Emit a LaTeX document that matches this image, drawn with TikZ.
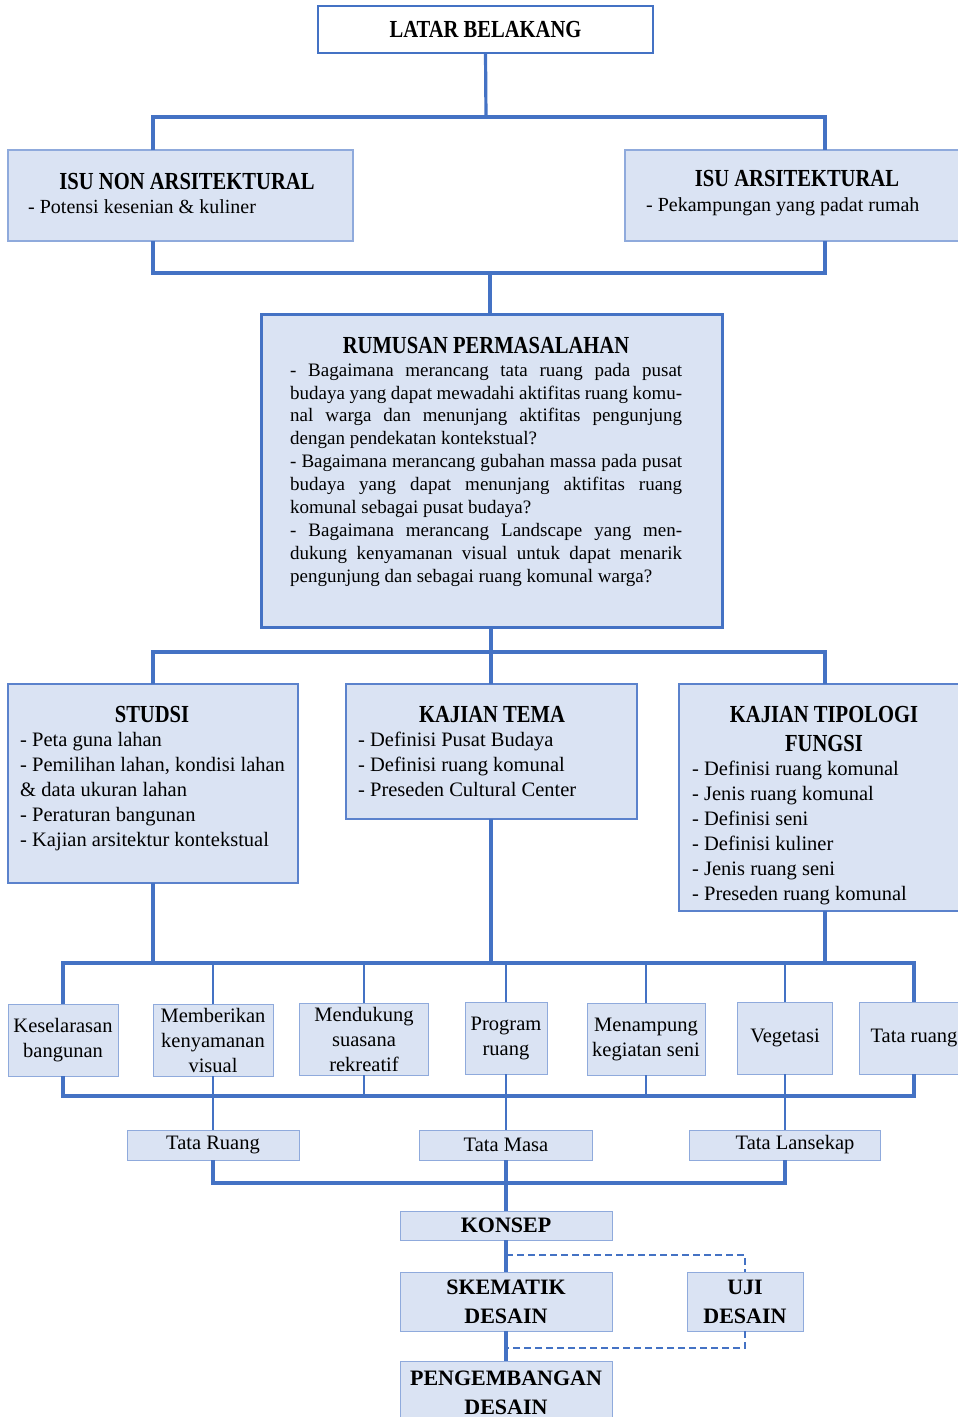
\documentclass[tikz,border=0pt]{standalone}
\usepackage{fontspec}
\setmainfont{Liberation Serif}
\usepackage{graphicx}
\usetikzlibrary{calc}
\definecolor{lb}{HTML}{4472C4}
\definecolor{fb}{HTML}{DAE3F3}
\definecolor{bb}{HTML}{8FAADC}
\definecolor{mb}{HTML}{5B82CC}
\newcommand\ttl[1]{\scalebox{0.84}[1]{#1}}
\newcommand\jl[1]{\makebox[392pt][s]{#1}}
\begin{document}
\begin{tikzpicture}[x=1pt,y=-1pt,
  conn/.style={draw=lb,line width=3.2pt},
  midl/.style={draw=lb,line width=2.4pt},
  thinl/.style={draw=lb,line width=1.8pt},
  dashl/.style={draw=lb,line width=2.8pt,dash pattern=on 7pt off 4pt},
  box/.style={rectangle,fill=fb,inner sep=0pt,outer sep=0pt},
  sbox/.style={box,draw=bb,line width=1pt,align=center,font=\fontsize{20.5}{25}\selectfont},
  ttlf/.style={font=\fontsize{24.5}{28}\selectfont\bfseries,inner sep=0pt},
  kf/.style={font=\fontsize{22}{29}\selectfont\bfseries},
  bodyf/.style={font=\fontsize{20}{25}\selectfont,inner sep=0pt},
  listf/.style={font=\fontsize{20.5}{25}\selectfont,inner sep=0pt,align=left,anchor=north west},
]
\useasboundingbox (0,0) rectangle (958,1417);
\clip (0,0) rectangle (958,1417);

% top
\node[box,fill=white,draw=lb,line width=1.5pt,minimum width=335pt,minimum height=47pt,anchor=north west,ttlf] (lat) at (318,6) {\ttl{LATAR BELAKANG}};
\node[box,draw=bb,line width=1.5pt,minimum width=345pt,minimum height=91pt,anchor=north west] (isun) at (8,150) {};
\node[ttlf,anchor=base] (isunt) at (187,189) {\ttl{ISU NON ARSITEKTURAL}};
\node[bodyf,anchor=base west] (isuni) at (28,213) {- Potensi kesenian \& kuliner};
\node[box,draw=bb,line width=1.5pt,minimum width=345pt,minimum height=91pt,anchor=north west] (isa) at (625,150) {};
\node[ttlf,anchor=base] (isat) at (797,186) {\ttl{ISU ARSITEKTURAL}};
\node[bodyf,anchor=base west] (isai) at (646,211) {- Pekampungan yang padat rumah};

% rumusan
\node[box,draw=lb,line width=3pt,minimum width=461pt,minimum height=313pt,anchor=north west] (rum) at (261,314) {};
\node[ttlf,anchor=base] (rumt) at (486,353) {\ttl{RUMUSAN PERMASALAHAN}};
\node[font=\fontsize{19}{22.9}\selectfont,inner sep=0pt,align=left,anchor=north west] (rump) at (290,359.9) {%
\strut\jl{- Bagaimana merancang tata ruang pada pusat}\\
\jl{budaya yang dapat mewadahi aktifitas ruang komu-}\\
\jl{nal warga dan menunjang aktifitas pengunjung}\\
dengan pendekatan kontekstual?\\
\jl{- Bagaimana merancang gubahan massa pada pusat}\\
\jl{budaya yang dapat menunjang aktifitas ruang}\\
komunal sebagai pusat budaya?\\
\jl{- Bagaimana merancang Landscape yang men-}\\
\jl{dukung kenyamanan visual untuk dapat menarik}\\
pengunjung dan sebagai ruang komunal warga?};

% studi boxes
\node[box,draw=mb,line width=2pt,minimum width=290pt,minimum height=199pt,anchor=north west] (stud) at (8,684) {};
\node[ttlf,anchor=base] (studt) at (152,722) {\ttl{STUDSI}};
\node[listf] (studl) at (20,728.5) {\strut- Peta guna lahan\\- Pemilihan lahan, kondisi lahan\\\& data ukuran lahan\\- Peraturan bangunan\\- Kajian arsitektur kontekstual};
\node[box,draw=mb,line width=2pt,minimum width=291pt,minimum height=135pt,anchor=north west] (ktem) at (346,684) {};
\node[ttlf,anchor=base] (ktemt) at (492,722) {\ttl{KAJIAN TEMA}};
\node[listf] (kteml) at (358,728.5) {\strut- Definisi Pusat Budaya\\- Definisi ruang komunal\\- Preseden Cultural Center};
\node[box,draw=mb,line width=2pt,minimum width=295pt,minimum height=227pt,anchor=north west] (ktip) at (679,684) {};
\node[ttlf,anchor=base] (ktipt) at (824,722) {\ttl{KAJIAN TIPOLOGI}};
\node[ttlf,anchor=base] (ktipt2) at (824,751) {\ttl{FUNGSI}};
\node[listf] (ktipl) at (692,757.5) {\strut- Definisi ruang komunal\\- Jenis ruang komunal\\- Definisi seni\\- Definisi kuliner\\- Jenis ruang seni\\- Preseden ruang komunal};

% small boxes
\node[sbox,minimum width=110pt,minimum height=72pt] (k1) at (63,1040) {Keselarasan\\bangunan};
\node[sbox,minimum width=120pt,minimum height=72pt] (k2) at (213,1040) {Memberikan\\kenyamanan\\visual};
\node[sbox,minimum width=129pt,minimum height=72pt] (k3) at (364,1039) {Mendukung\\suasana\\rekreatif};
\node[sbox,minimum width=82pt,minimum height=72pt] (k4) at (506,1038) {Program\\ruang};
\node[sbox,minimum width=118pt,minimum height=72pt] (k5) at (646,1039) {Menampung\\kegiatan seni};
\node[sbox,minimum width=95pt,minimum height=72pt] (k6) at (785,1038) {Vegetasi};
\node[sbox,minimum width=110pt,minimum height=72pt] (k7) at (914,1038) {Tata ruang};

\node[sbox,minimum width=172pt,minimum height=30pt] (tr) at (213,1145) {Tata Ruang};
\node[sbox,minimum width=173pt,minimum height=30pt] (tm) at (506,1145) {Tata Masa};
\node[sbox,minimum width=191pt,minimum height=30pt] (tl) at (785,1145) {\hspace*{20pt}Tata Lansekap};

\node[box,draw=bb,line width=1pt,minimum width=212pt,minimum height=29pt,kf] (kon) at (506,1225.5) {KONSEP};
\node[box,draw=bb,line width=1pt,minimum width=212pt,minimum height=59pt,kf,align=center] (ske) at (506,1301.5) {SKEMATIK\\DESAIN};
\node[box,draw=bb,line width=1pt,minimum width=116pt,minimum height=59pt,kf,align=center] (uji) at (745,1301.5) {UJI\\DESAIN};
\node[box,draw=bb,line width=1pt,minimum width=212pt,minimum height=64pt,kf,align=center] (pen) at (506,1393) {PENGEMBANGAN\\DESAIN};

% connectors
\coordinate (t1) at (486,117);
\coordinate (t2) at (490,273);
\coordinate (t3) at (491,652);
\coordinate (xl) at (153,0);
\coordinate (xr) at (825,0);
\draw[conn] (lat.south) -- (t1);
\draw[conn] (isun.north -| xl) |- (t1) -| (isa.north -| xr);
\draw[conn] (isun.south -| xl) |- (t2) -| (isa.south -| xr);
\draw[conn] (t2) -- (rum.north -| t2);
\draw[conn] (rum.south -| t3) -- (t3);
\draw[conn] (stud.north -| xl) |- (t3) -| (ktip.north -| xr);
\draw[conn] (t3) -- (ktem.north -| t3);

\coordinate (bus) at (0,963);
\coordinate (bus2) at (0,1096);
\coordinate (bus3) at (0,1183);
\coordinate (d1) at (0,1255);
\coordinate (d2) at (0,1348);
\draw[conn] (stud.south -| xl) -- (xl |- bus);
\draw[conn] (ktem.south -| t3) -- (t3 |- bus);
\draw[conn] (ktip.south -| xr) -- (xr |- bus);
\draw[conn] (k1.north) -- (k1.north |- bus) -- (k7.north |- bus) -- (k7.north);
\foreach \k in {k2,k3,k4,k5,k6} \draw[midl] (\k.north) -- (\k.north |- bus);
\draw[conn] (k1.south) -- (k1.south |- bus2) -- (k7.south |- bus2) -- (k7.south);
\foreach \k in {k2,k3,k4,k5,k6} \draw[thinl] (\k.south) -- (\k.south |- bus2);
\draw[midl] (k2.south |- bus2) -- (tr.north);
\draw[midl] (k4.south |- bus2) -- (tm.north);
\draw[midl] (k6.south |- bus2) -- (tl.north);
\draw[conn] (tr.south) -- (tr.south |- bus3) -- (tl.south |- bus3) -- (tl.south);
\draw[conn] (tm.south) -- (kon.north);
\draw[conn] (kon.south) -- (ske.north);
\draw[conn] (ske.south) -- (pen.north);
\draw[dashl] (kon.south |- d1) -| (uji.north);
\draw[dashl] (uji.south) |- (ske.south |- d2);
\end{tikzpicture}
\end{document}
